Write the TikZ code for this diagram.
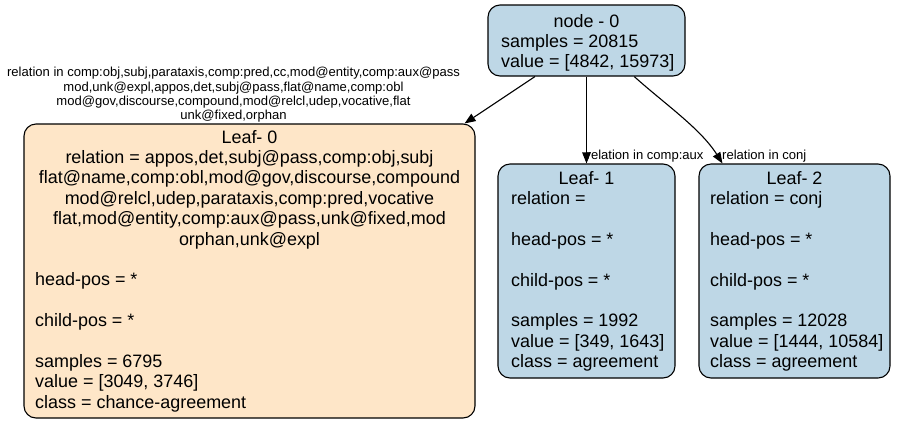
\documentclass[tikz,border=0pt]{standalone}
\usepackage{fontspec}
\setmainfont{Liberation Sans}
\usetikzlibrary{arrows.meta,calc}
\definecolor{leafblue}{RGB}{190,215,230}
\definecolor{leaforange}{RGB}{254,230,200}
\tikzset{
  box/.style={draw=black, line width=1.1pt, rounded corners=12pt, inner sep=0pt},
  txt/.style={inner sep=0pt, font=\fontsize{17.95}{20.4}\selectfont},
  ctxt/.style={txt, anchor=base},
  ltxt/.style={txt, anchor=base west},
  elab/.style={inner sep=0pt, font=\fontsize{13.05}{14.4}\selectfont},
  arr/.style={draw=black, line width=1.1pt, -{Triangle[length=11pt,width=8.5pt]}}
}
\begin{document}
\begin{tikzpicture}[x=1pt,y=-1pt]
\useasboundingbox (0,0) rectangle (901,424);
% boxes
\node[box, fill=leafblue, minimum width=197pt, minimum height=71pt] (root) at (586.5,40.5) {};
\node[box, fill=leaforange, minimum width=451pt, minimum height=294pt] (leaf0) at (249.5,271) {};
\node[box, fill=leafblue, minimum width=177pt, minimum height=214pt] (leaf1) at (586.5,271) {};
\node[box, fill=leafblue, minimum width=191pt, minimum height=214pt] (leaf2) at (794.5,271) {};
% root text
\node[ctxt] (rt0) at (586.5,27) {node - 0};
\node[ltxt] (rt1) at (501,47.4) {samples = 20815};
\node[ltxt] (rt2) at (501,67.8) {value = [4842, 15973]};
% leaf 0 text
\node[ctxt] (a0) at (249.5,143) {Leaf- 0};
\node[ctxt] (a1) at (249.5,163.4) {relation = appos,det,subj@pass,comp:obj,subj};
\node[ctxt] (a2) at (249.5,183.8) {flat@name,comp:obl,mod@gov,discourse,compound};
\node[ctxt] (a3) at (249.5,204.2) {mod@relcl,udep,parataxis,comp:pred,vocative};
\node[ctxt] (a4) at (249.5,224.6) {flat,mod@entity,comp:aux@pass,unk@fixed,mod};
\node[ctxt] (a5) at (249.5,245) {orphan,unk@expl};
\node[ltxt] (a6) at (35,285.8) {head-pos = *};
\node[ltxt] (a7) at (35,326.6) {child-pos = *};
\node[ltxt] (a8) at (35,367.4) {samples = 6795};
\node[ltxt] (a9) at (35,387.8) {value = [3049, 3746]};
\node[ltxt] (a10) at (35,408.2) {class = chance-agreement};
% leaf 1 text
\node[ctxt] (b0) at (586.5,184) {Leaf- 1};
\node[ltxt] (b1) at (511,204.4) {relation =};
\node[ltxt] (b2) at (511,245.2) {head-pos = *};
\node[ltxt] (b3) at (511,286) {child-pos = *};
\node[ltxt] (b4) at (511,326.8) {samples = 1992};
\node[ltxt] (b5) at (511,347.2) {value = [349, 1643]};
\node[ltxt] (b6) at (511,367.6) {class = agreement};
% leaf 2 text
\node[ctxt] (c0) at (794.5,184) {Leaf- 2};
\node[ltxt] (c1) at (710,204.4) {relation = conj};
\node[ltxt] (c2) at (710,245.2) {head-pos = *};
\node[ltxt] (c3) at (710,286) {child-pos = *};
\node[ltxt] (c4) at (710,326.8) {samples = 12028};
\node[ltxt] (c5) at (710,347.2) {value = [1444, 10584]};
\node[ltxt] (c6) at (710,367.6) {class = agreement};
% edge labels
\node[elab, anchor=base] (e0a) at (233.5,76.6) {relation in comp:obj,subj,parataxis,comp:pred,cc,mod@entity,comp:aux@pass};
\node[elab, anchor=base] (e0b) at (233.5,91) {mod,unk@expl,appos,det,subj@pass,flat@name,comp:obl};
\node[elab, anchor=base] (e0c) at (233.5,105.4) {mod@gov,discourse,compound,mod@relcl,udep,vocative,flat};
\node[elab, anchor=base] (e0d) at (233.5,119.8) {unk@fixed,orphan};
\node[elab, anchor=base west] (e1) at (586.5,159.5) {relation in comp:aux};
\node[elab, anchor=base west] (e2) at (722,159.5) {relation in conj};
% edges
\coordinate (s0) at ($(root.south west)!0.24!(root.south east)$);
\coordinate (t0) at ($(leaf0.north east)+(-11,0)$);
\coordinate (s2) at ($(root.south west)!0.741!(root.south east)$);
\coordinate (t2) at ($(leaf2.north west)+(24,0)$);
\draw[arr] (s0) -- (t0);
\draw[arr] (root.south) -- (leaf1.north);
\draw[arr] (s2) .. controls ($(s2)+(30,27)$) and ($(t2)+(-22,-35)$) .. (t2);
\end{tikzpicture}
\end{document}
